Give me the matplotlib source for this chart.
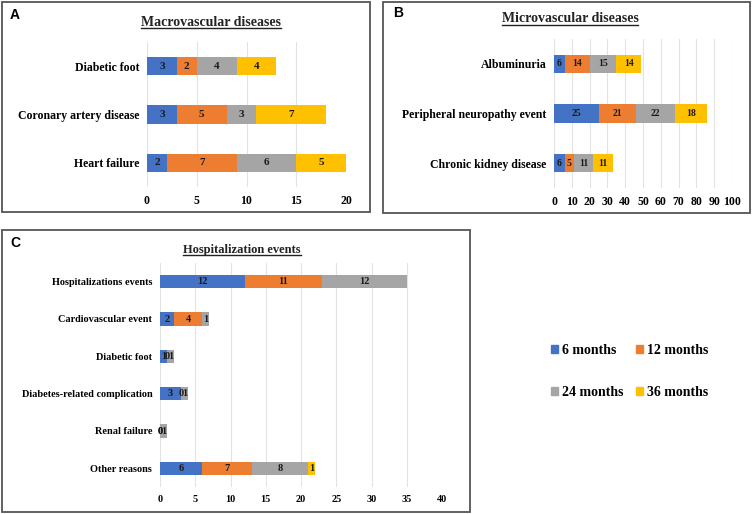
import matplotlib
matplotlib.use("Agg")
import matplotlib.pyplot as plt
import matplotlib.patches as patches
from matplotlib.lines import Line2D
import numpy as np

# series names and colours (Excel default palette)
periods = ["6 months", "12 months", "24 months", "36 months"]
colors = ["#4472C4", "#ED7D31", "#A5A5A5", "#FFC000"]

# A - macrovascular (bottom to top)
macro_cats = ["Heart failure", "Coronary artery disease", "Diabetic foot"]
macro_6 = [2, 3, 3]
macro_12 = [7, 5, 2]
macro_24 = [6, 3, 4]
macro_36 = [5, 7, 4]

# B - microvascular (bottom to top)
micro_cats = ["Chronic kidney disease", "Peripheral neuropathy event", "Albuminuria"]
micro_6 = [6, 25, 6]
micro_12 = [5, 21, 14]
micro_24 = [11, 22, 15]
micro_36 = [11, 18, 14]

# C - hospitalization (bottom to top)
hosp_cats = ["Other reasons", "Renal failure", "Diabetes-related complication",
             "Diabetic foot", "Cardiovascular event", "Hospitalizations events"]
hosp_6 = [6, 0, 3, 1, 2, 12]
hosp_12 = [7, 0, 0, 0, 4, 11]
hosp_24 = [8, 1, 1, 1, 1, 12]
hosp_36 = [1, 0, 0, 0, 0, 0]

W, H = 752, 514
fig = plt.figure(figsize=(W / 100, H / 100), dpi=100)
serif = "Liberation Serif"


def px_axes(left, top, right, bottom):
    return fig.add_axes([left / W, 1 - bottom / H, (right - left) / W, (bottom - top) / H])


def frame(left, top, right, bottom):
    r = patches.Rectangle((left / W, 1 - bottom / H), (right - left) / W, (bottom - top) / H,
                          transform=fig.transFigure, fill=False, edgecolor="#555555", lw=1.3)
    fig.patches.append(r)


def title(text, cx, cy, size):
    t = fig.text(cx / W, 1 - cy / H, text, ha="center", va="center", fontsize=size,
                 fontweight="bold", family=serif, color="#222222")
    fig.canvas.draw()
    bb = t.get_window_extent().transformed(fig.transFigure.inverted())
    fig.lines.append(Line2D([bb.x0, bb.x1], [bb.y0 + 0.001, bb.y0 + 0.001],
                            transform=fig.transFigure, color="#222222", lw=1.0))


def stacked(ax, cats, series, xmax, step, height, tick_fs, val_fs, skip_zero_last=False):
    y = np.arange(len(cats))
    left = np.zeros(len(cats))
    for i, vals in enumerate(series):
        vals = np.array(vals, dtype=float)
        ax.barh(y, vals, left=left, height=height, color=colors[i], zorder=3)
        for j, v in enumerate(vals):
            if skip_zero_last and v == 0 and i == 3:
                continue
            ax.text(left[j] + v / 2, y[j], f"{int(v)}", ha="center", va="center",
                    fontsize=val_fs, fontweight="bold", family=serif, color="#1a1a1a", zorder=4)
        left += vals
    ax.set_yticks(y)
    ax.set_yticklabels(cats, fontsize=tick_fs, fontweight="bold", family=serif)
    ax.set_xlim(0, xmax)
    ax.set_xticks(np.arange(0, xmax + 1, step))
    for lab in ax.get_xticklabels():
        lab.set_fontsize(tick_fs)
        lab.set_fontweight("bold")
        lab.set_family(serif)
    ax.set_ylim(-0.5, len(cats) - 0.5)
    ax.tick_params(length=0, pad=5.5)
    ax.grid(axis="x", color="#e3e3e3", lw=0.8, zorder=0)
    for s in ax.spines.values():
        s.set_visible(False)
    ax.set_facecolor("none")


# panel A
frame(2, 2, 370, 212)
fig.text(10 / W, 1 - 15 / H, "A", fontsize=10, fontweight="bold", family="Liberation Sans", va="center")
title("Macrovascular diseases", 211, 22, 10)
axA = px_axes(147, 42, 346, 187)
stacked(axA, macro_cats, [macro_6, macro_12, macro_24, macro_36], 20, 5, 0.38, 8.5, 8)

# panel B
frame(383, 2, 750, 213)
fig.text(393 / W, 1 - 13 / H, "B", fontsize=10, fontweight="bold", family="Liberation Sans", va="center")
title("Microvascular diseases", 570, 19, 10)
axB = px_axes(554, 39, 732, 188)
stacked(axB, micro_cats, [micro_6, micro_12, micro_24, micro_36], 100, 10, 0.37, 8.5, 7)

# panel C
frame(2, 230, 470, 512)
fig.text(10 / W, 1 - 243 / H, "C", fontsize=10, fontweight="bold", family="Liberation Sans", va="center")
title("Hospitalization events", 242, 250, 9)
axC = px_axes(160, 263, 442, 487)
stacked(axC, hosp_cats, [hosp_6, hosp_12, hosp_24, hosp_36], 40, 5, 0.36, 7.4, 7.5, skip_zero_last=True)

# legend: filled column-wise, so order gives rows 6/12 and 24/36
order = [0, 2, 1, 3]
handles = [patches.Patch(color=colors[k]) for k in order]
fig.legend(handles, [periods[k] for k in order], ncol=2, loc="center",
           bbox_to_anchor=(630 / W, 1 - 371.5 / H),
           frameon=False, handlelength=0.5, handleheight=0.5, handletextpad=0.3,
           columnspacing=0.9, labelspacing=2.05,
           prop={"family": serif, "weight": "bold", "size": 10})

fig.savefig("out.png", dpi=100)
